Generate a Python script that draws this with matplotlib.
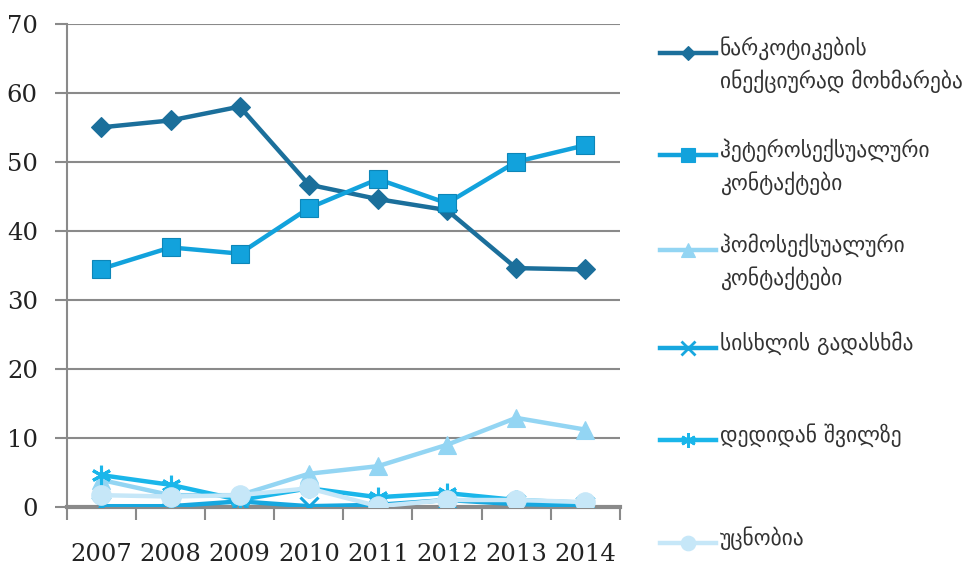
import matplotlib
matplotlib.use("Agg")
import matplotlib.pyplot as plt
from matplotlib.lines import Line2D

# data
years = ['2007', '2008', '2009', '2010', '2011', '2012', '2013', '2014']
injecting = [55.0, 56.0, 58.0, 46.7, 44.6, 43.0, 34.6, 34.4]
hetero = [34.5, 37.6, 36.7, 43.3, 47.5, 44.0, 50.0, 52.4]
homo = [3.9, 1.7, 1.7, 4.8, 5.9, 9.0, 12.9, 11.2]
blood = [0.1, 0.1, 0.8, 0.1, 0.3, 1.0, 0.4, 0.2]
mother_child = [4.6, 3.2, 1.0, 2.7, 1.4, 2.0, 1.0, 0.6]
unknown = [1.7, 1.5, 1.7, 2.7, 0.1, 1.0, 1.0, 0.7]

labels = ['ნარკოტიკების\nინექციურად მოხმარება',
          'ჰეტეროსექსუალური\nკონტაქტები',
          'ჰომოსექსუალური\nკონტაქტები',
          'სისხლის გადასხმა',
          'დედიდან შვილზე',
          'უცნობია']

series = [injecting, hetero, homo, blood, mother_child, unknown]
colors = ['#1b6f9b', '#12a2dc', '#93d5f3', '#17a7df', '#1ab6ea', '#c6e7f8']
markers = ['D', 's', '^', 'x', (6, 2, 0), 'o']
msizes = [10, 13, 13, 13, 14, 14]

fig = plt.figure(figsize=(9.7, 5.67), dpi=100)
ax = fig.add_axes([0.069, 0.106, 0.57, 0.852])

x = range(len(years))
for i, vals in enumerate(series):
    ax.plot(x, vals, color=colors[i], lw=3.2, marker=markers[i], ms=msizes[i],
            mew=2.2 if i in (3, 4) else 0.8,
            mec=colors[i] if i != 1 else '#0d86b8', zorder=3 + i)

ax.set_ylim(0, 70)
ax.set_xlim(-0.5, 7.5)
ax.set_yticks(range(0, 71, 10))
ax.set_xticks(list(x))
ax.set_xticklabels(years)
ax.set_xticks([i - 0.5 for i in range(9)], minor=True)
ax.tick_params(axis='x', which='major', length=0, pad=26)
ax.tick_params(axis='x', which='minor', length=9, width=1.5, color='#8a8a8a')
ax.tick_params(axis='y', length=9, width=1.5, color='#8a8a8a', pad=12)
for lab in ax.get_xticklabels() + ax.get_yticklabels():
    lab.set_fontfamily('DejaVu Serif')
    lab.set_fontsize(17.5)
    lab.set_color('#222222')

ax.grid(axis='y', color='#8a8a8a', lw=1.5, zorder=0)
ax.set_axisbelow(True)
for s in ['top', 'right']:
    ax.spines[s].set_visible(False)
ax.spines['left'].set_color('#8a8a8a')
ax.spines['left'].set_linewidth(1.5)
ax.spines['bottom'].set_color('#8a8a8a')
ax.spines['bottom'].set_linewidth(3)

# legend, drawn by hand so the handle sits at the first line of each label
leg_y = [53, 155, 250, 348, 440, 543]
for i, lab in enumerate(labels):
    yy = 1 - leg_y[i] / 567
    fig.add_artist(Line2D([660 / 970, 716 / 970], [yy, yy], transform=fig.transFigure,
                          color=colors[i], lw=3.2))
    fig.add_artist(Line2D([688 / 970], [yy], transform=fig.transFigure,
                          color=colors[i], marker=markers[i], ms=msizes[i] * 0.75,
                          mew=2 if i in (3, 4) else 0.8, mec=colors[i]))
    fig.text(720 / 970, yy + 0.029, lab, fontsize=15.5, color='#333333', va='top',
             ha='left', linespacing=1.5, fontfamily='DejaVu Sans')

fig.savefig('out.png', dpi=100)
